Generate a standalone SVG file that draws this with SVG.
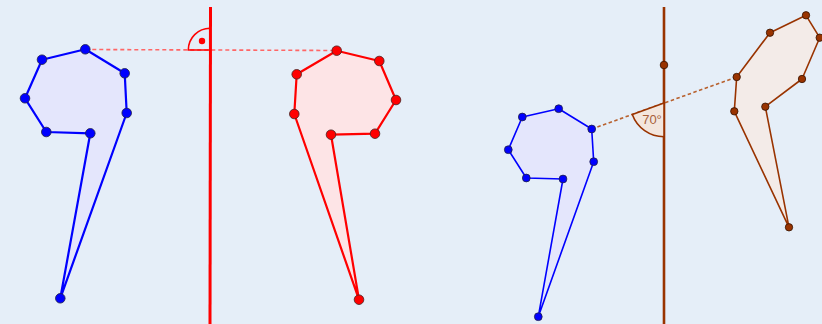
<svg xmlns="http://www.w3.org/2000/svg" width="822" height="324" viewBox="0 0 822 324">
<style>
.bg{fill:#e5eef8}
.pb{fill:#e4e6fc;stroke:#0000ff;stroke-width:2.2;stroke-linejoin:round}
.pr{fill:#fde4e6;stroke:#ff0000;stroke-width:2.2;stroke-linejoin:round}
.pbr{fill:#f3ebe8;stroke:#993300;stroke-width:1.6;stroke-linejoin:round}
.pbs{fill:#e4e6fc;stroke:#0000ff;stroke-width:1.6;stroke-linejoin:round}
.db{fill:#0000ff;stroke:#222244;stroke-width:0.8}
.dr{fill:#ff0000;stroke:#442222;stroke-width:0.8}
.dbr{fill:#993300;stroke:#331100;stroke-width:0.8}
.lbl{font-family:"Liberation Sans",Arial,sans-serif;font-size:13px;fill:#a8603a}
</style>
<rect class="bg" x="0" y="0" width="822" height="324"/>
<g id="connectors">
  <line x1="85.3" y1="49.5" x2="336.7" y2="50.5" stroke="#ff6666" stroke-width="1.6" stroke-dasharray="4,3"/>
  <line x1="591.7" y1="129" x2="736.7" y2="77" stroke="#b8612e" stroke-width="1.6" stroke-dasharray="3.5,2.5"/>
</g>
<g id="mirror-red">
  <line x1="210.5" y1="7" x2="210" y2="324" stroke="#ff0000" stroke-width="3"/>
  <path d="M210,50 L188.3,50 A21.7,21.7 0 0 1 210,28.3 Z" fill="none" stroke="#ff0000" stroke-width="1.6"/>
  <circle cx="202" cy="41" r="3.2" fill="#ff0000"/>
</g>
<g id="mirror-brown">
  <line x1="664" y1="7" x2="664" y2="324" stroke="#993300" stroke-width="2.6"/>
  <path d="M664,103 L632.3,114.5 A33.7,33.7 0 0 0 664,136.7 Z" fill="#f3e6de" stroke="#993300" stroke-width="1.6"/>
  <text class="lbl" x="652" y="123.5" text-anchor="middle">70°</text>
  <circle class="dbr" cx="664" cy="65" r="3.8"/>
</g>
<g id="blue-left">
  <polygon class="pb" points="85.3,49.3 124.7,73.3 126.7,113 60.3,298.3 90.3,133.3 46.3,132 25,98.3 42,59.7"/>
  <circle class="db" cx="85.3" cy="49.3" r="4.8"/>
  <circle class="db" cx="124.7" cy="73.3" r="4.8"/>
  <circle class="db" cx="126.7" cy="113" r="4.8"/>
  <circle class="db" cx="60.3" cy="298.3" r="4.8"/>
  <circle class="db" cx="90.3" cy="133.3" r="4.8"/>
  <circle class="db" cx="46.3" cy="132" r="4.8"/>
  <circle class="db" cx="25" cy="98.3" r="4.8"/>
  <circle class="db" cx="42" cy="59.7" r="4.8"/>
</g>
<g id="red-image">
  <polygon class="pr" points="336.7,50.7 379.3,61 396,100 375,133.7 331,134.7 359,299.7 294.3,114 296.7,74.3"/>
  <circle class="dr" cx="336.7" cy="50.7" r="4.8"/>
  <circle class="dr" cx="379.3" cy="61" r="4.8"/>
  <circle class="dr" cx="396" cy="100" r="4.8"/>
  <circle class="dr" cx="375" cy="133.7" r="4.8"/>
  <circle class="dr" cx="331" cy="134.7" r="4.8"/>
  <circle class="dr" cx="359" cy="299.7" r="4.8"/>
  <circle class="dr" cx="294.3" cy="114" r="4.8"/>
  <circle class="dr" cx="296.7" cy="74.3" r="4.8"/>
</g>
<g id="blue-right">
  <polygon class="pbs" points="558.7,108.7 591.7,129 593.7,161.7 538.3,316.7 563,179 526.3,178 508.3,149.7 522.3,117"/>
  <circle class="db" cx="558.7" cy="108.7" r="3.9"/>
  <circle class="db" cx="591.7" cy="129" r="3.9"/>
  <circle class="db" cx="593.7" cy="161.7" r="3.9"/>
  <circle class="db" cx="538.3" cy="316.7" r="3.9"/>
  <circle class="db" cx="563" cy="179" r="3.9"/>
  <circle class="db" cx="526.3" cy="178" r="3.9"/>
  <circle class="db" cx="508.3" cy="149.7" r="3.9"/>
  <circle class="db" cx="522.3" cy="117" r="3.9"/>
</g>
<g id="brown-image">
  <polygon class="pbr" points="806,15.3 819.7,37.7 802,79 765.3,106.7 789,227.3 734.3,111.3 736.7,77 770,32.7"/>
  <circle class="dbr" cx="806" cy="15.3" r="3.7"/>
  <circle class="dbr" cx="819.7" cy="37.7" r="3.7"/>
  <circle class="dbr" cx="802" cy="79" r="3.7"/>
  <circle class="dbr" cx="765.3" cy="106.7" r="3.7"/>
  <circle class="dbr" cx="789" cy="227.3" r="3.7"/>
  <circle class="dbr" cx="734.3" cy="111.3" r="3.7"/>
  <circle class="dbr" cx="736.7" cy="77" r="3.7"/>
  <circle class="dbr" cx="770" cy="32.7" r="3.7"/>
</g>
</svg>
